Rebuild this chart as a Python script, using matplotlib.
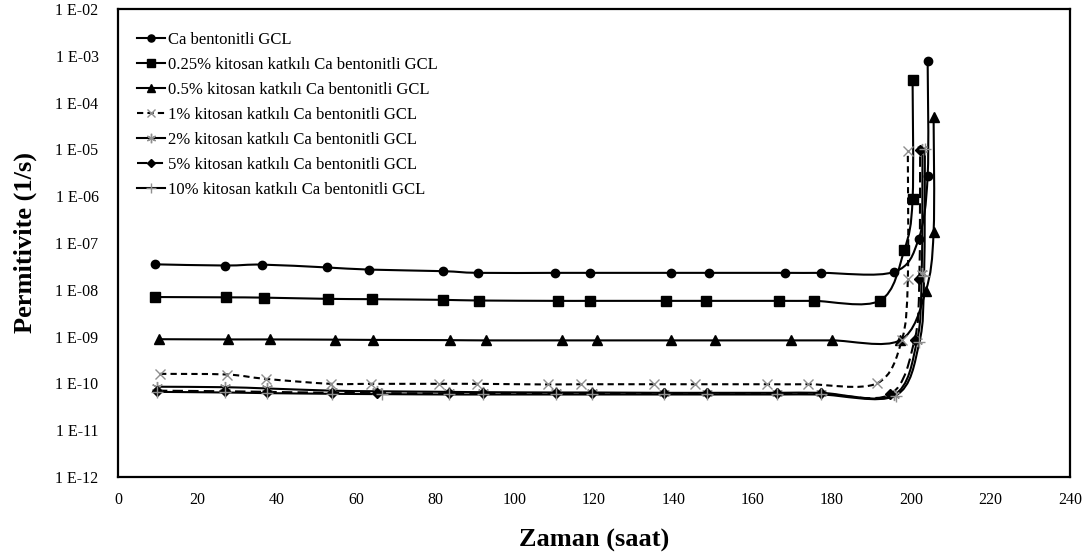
import numpy as np
import matplotlib
matplotlib.use('Agg')
import matplotlib.pyplot as plt
from matplotlib.path import Path
from matplotlib.patches import PathPatch
from matplotlib.lines import Line2D
from matplotlib.ticker import FixedLocator, FuncFormatter, NullLocator

plt.rcParams['font.family'] = ['Liberation Serif', 'DejaVu Serif']

# data: time (saat) and permittivity (1/s)
t_ca = [9.2, 27.0, 36.3, 52.6, 63.3, 81.8, 90.8, 110.2, 119.1, 139.3, 149.0,
        168.2, 177.3, 195.6, 201.8, 204.1, 204.1]
v_ca = [3.5e-8, 3.3e-8, 3.45e-8, 3.0e-8, 2.7e-8, 2.5e-8, 2.3e-8, 2.3e-8,
        2.3e-8, 2.3e-8, 2.3e-8, 2.3e-8, 2.3e-8, 2.4e-8, 1.2e-7, 2.7e-6, 7.6e-4]

t_025 = [9.2, 27.2, 36.7, 53.0, 63.9, 81.9, 91.0, 110.8, 119.1, 138.1, 148.3,
         166.6, 175.4, 192.1, 198.2, 200.3, 200.3]
v_025 = [7.0e-9, 6.9e-9, 6.8e-9, 6.4e-9, 6.3e-9, 6.1e-9, 5.9e-9, 5.8e-9,
         5.8e-9, 5.8e-9, 5.8e-9, 5.8e-9, 5.8e-9, 5.9e-9, 7.0e-8, 8.5e-7, 3.1e-4]

t_05 = [10.2, 27.6, 38.2, 54.6, 64.3, 83.7, 92.7, 111.9, 120.8, 139.5, 150.6,
        169.6, 180.1, 197.1, 203.6, 205.6, 205.6]
v_05 = [8.8e-10, 8.7e-10, 8.7e-10, 8.6e-10, 8.5e-10, 8.4e-10, 8.3e-10, 8.3e-10,
        8.3e-10, 8.3e-10, 8.3e-10, 8.3e-10, 8.3e-10, 8.3e-10, 9.3e-9, 1.7e-7, 4.8e-5]

t_1 = [10.6, 27.4, 37.2, 53.6, 63.7, 80.9, 90.4, 108.3, 116.7, 135.1, 145.4,
       163.5, 174.0, 191.3, 197.6, 199.1, 199.1]
v_1 = [1.6e-10, 1.55e-10, 1.25e-10, 9.8e-11, 9.8e-11, 9.8e-11, 9.8e-11, 9.5e-11,
       9.6e-11, 9.6e-11, 9.6e-11, 9.6e-11, 9.6e-11, 1.0e-10, 8.5e-10, 1.7e-8, 9.0e-6]

t_2 = [9.8, 27.0, 37.6, 54.0, 65.4, 83.5, 91.9, 110.4, 119.4, 137.6, 148.5,
       166.2, 177.2, 195.5, 201.4, 202.6, 202.8]
v_2 = [8.5e-11, 8.3e-11, 7.8e-11, 7.0e-11, 6.8e-11, 6.6e-11, 6.5e-11, 6.4e-11,
       6.4e-11, 6.3e-11, 6.3e-11, 6.3e-11, 6.3e-11, 5.6e-11, 8.0e-10, 2.3e-8, 1.0e-5]

t_5 = [9.8, 27.0, 37.6, 54.0, 65.4, 83.5, 91.9, 110.4, 119.4, 137.6, 148.5,
       166.2, 177.2, 194.6, 200.8, 202.0, 202.2]
v_5 = [7.0e-11, 6.8e-11, 6.6e-11, 6.3e-11, 6.2e-11, 6.1e-11, 6.1e-11, 6.1e-11,
       6.1e-11, 6.1e-11, 6.1e-11, 6.1e-11, 6.1e-11, 5.8e-11, 8.5e-10, 1.7e-8, 9.5e-6]

t_10 = [9.8, 27.0, 37.6, 54.0, 66.5, 83.5, 91.9, 110.4, 119.4, 137.6, 148.5,
        166.2, 177.2, 196.0, 202.0, 203.2, 203.4]
v_10 = [6.6e-11, 6.4e-11, 6.2e-11, 6.0e-11, 5.9e-11, 5.8e-11, 5.8e-11, 5.8e-11,
        5.8e-11, 5.8e-11, 5.8e-11, 5.8e-11, 5.8e-11, 5.5e-11, 7.5e-10, 2.0e-8, 1.0e-5]

labels = ['Ca bentonitli GCL',
          '0.25% kitosan katkılı Ca bentonitli GCL',
          '0.5% kitosan katkılı Ca bentonitli GCL',
          '1% kitosan katkılı Ca bentonitli GCL',
          '2% kitosan katkılı Ca bentonitli GCL',
          '5% kitosan katkılı Ca bentonitli GCL',
          '10% kitosan katkılı Ca bentonitli GCL']

gray = '#8f8f8f'
dash = (0, (3, 2))
longdash = (0, (5, 2.5))
styles = [
    dict(marker='o', ms=6, mfc='black', mec='black', ls='-'),
    dict(marker='s', ms=6.5, mfc='black', mec='black', ls='-'),
    dict(marker='^', ms=7, mfc='black', mec='black', ls='-'),
    dict(marker='x', ms=7.5, mfc=gray, mec=gray, ls=dash),
    dict(marker=(6, 2, 0), ms=8, mfc=gray, mec=gray, ls='-'),
    dict(marker='D', ms=5, mfc='black', mec='black', ls=longdash),
    dict(marker='+', ms=9, mfc=gray, mec=gray, ls='-'),
]
series = [(t_ca, v_ca), (t_025, v_025), (t_05, v_05), (t_1, v_1),
          (t_2, v_2), (t_5, v_5), (t_10, v_10)]


def smooth_path(t, v):
    # excel style smoothed line: cubic bezier through points in (t, log v)
    pts = np.column_stack([np.asarray(t, float), np.log10(v)])
    n = len(pts)
    verts = [pts[0]]
    codes = [Path.MOVETO]
    for i in range(n - 1):
        p0 = pts[max(i - 1, 0)]
        p1 = pts[i]
        p2 = pts[i + 1]
        p3 = pts[min(i + 2, n - 1)]
        verts += [p1 + (p2 - p0) / 6, p2 - (p3 - p1) / 6, p2]
        codes += [Path.CURVE4] * 3
    verts = np.array(verts)
    verts[:, 1] = 10 ** verts[:, 1]
    return Path(verts, codes)


fig = plt.figure(figsize=(10.89, 5.56), dpi=100)
ax = fig.add_axes([0.1084, 0.142, 0.8742, 0.842])
ax.set_yscale('log')
ax.set_xlim(0, 240)
ax.set_ylim(1e-12, 1e-2)

handles = []
for (t, v), st, lab in zip(series, styles, labels):
    ax.add_patch(PathPatch(smooth_path(t, v), fill=False, edgecolor='black',
                           lw=1.5, linestyle=st['ls'], zorder=2))
    ax.plot(t, v, ls='none', marker=st['marker'], ms=st['ms'], mfc=st['mfc'],
            mec=st['mec'], mew=1.0, zorder=3)
    handles.append(Line2D([0], [0], color='black', lw=1.5, ls=st['ls'],
                          marker=st['marker'], ms=st['ms'] * 0.85,
                          mfc=st['mfc'], mec=st['mec'], mew=1.0))

ax.legend(handles, labels, loc='upper left', bbox_to_anchor=(0.013, 0.965),
          frameon=False, fontsize=12, handlelength=1.7, handletextpad=0.15,
          labelspacing=0.54, borderaxespad=0)

ax.xaxis.set_major_locator(FixedLocator(np.arange(0, 241, 20)))
ax.yaxis.set_major_locator(FixedLocator([10.0 ** k for k in range(-12, -1)]))
ax.yaxis.set_minor_locator(NullLocator())
ax.yaxis.set_major_formatter(FuncFormatter(
    lambda v, p: '1 E-%02d' % round(-np.log10(v))))
ax.tick_params(axis='both', length=0, labelsize=11.5)
ax.tick_params(axis='y', pad=14)
ax.tick_params(axis='x', pad=11)
for s in ax.spines.values():
    s.set_linewidth(1.6)

ax.set_xlabel('Zaman (saat)', fontsize=19, fontweight='bold', labelpad=15)
ax.set_ylabel('Permitivite (1/s)', fontsize=19, fontweight='bold', labelpad=13)

fig.savefig('out.png', dpi=100)
